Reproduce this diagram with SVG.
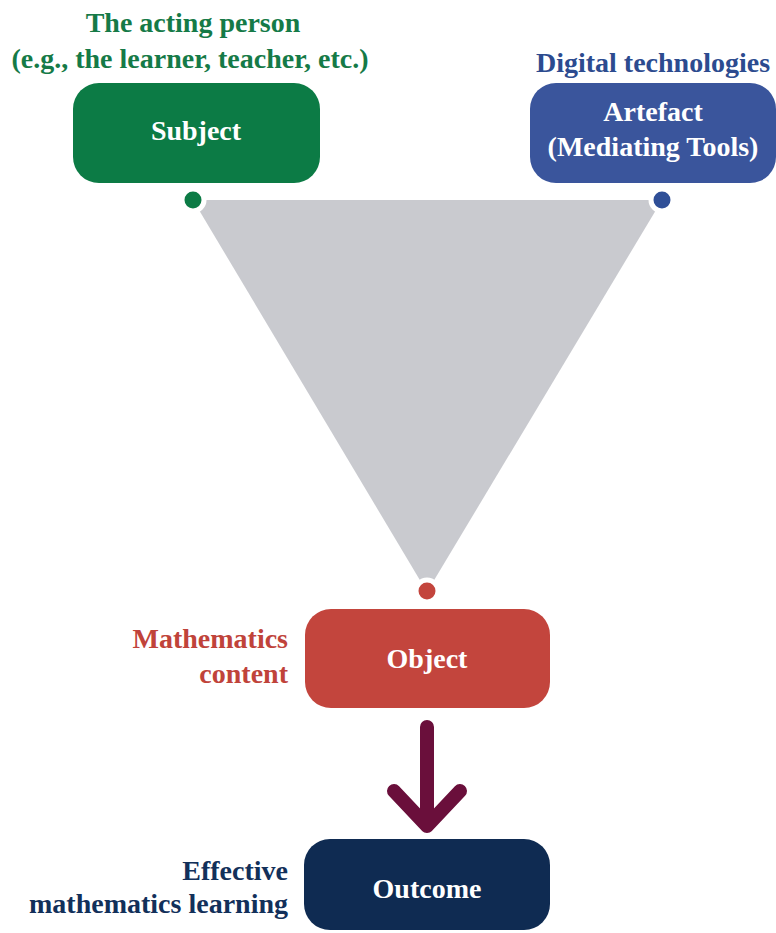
<svg xmlns="http://www.w3.org/2000/svg" width="776" height="933" viewBox="0 0 776 933" font-family="'Liberation Serif', 'DejaVu Serif', serif">
  <style>
    text { font-family: 'Liberation Serif', 'DejaVu Serif', serif; font-weight: 700; font-size: 28px; }
    .box-label { fill: #ffffff; text-anchor: middle; }
    .mid { text-anchor: middle; }
    .end { text-anchor: end; }
    .dot { stroke: #ffffff; stroke-width: 5; }
  </style>
  <rect width="776" height="933" fill="#ffffff"/>

  <!-- activity triangle between subject, artefact and object, plus the outcome arrow -->
  <g id="connectors">
    <polygon points="193,200 662,200 427,592" fill="#c9cacf"/>
    <path d="M427,727 V826 M394,791 L427,826 L460,791" fill="none" stroke="#6a0f3b" stroke-width="14" stroke-linecap="round" stroke-linejoin="round"/>
  </g>

  <g id="subject">
    <text x="193" y="32" class="mid" fill="#157a47">The acting person</text>
    <text x="190" y="68" class="mid" fill="#157a47">(e.g., the learner, teacher, etc.)</text>
    <rect x="73" y="83" width="247" height="100" rx="26" fill="#0c7b45"/>
    <text x="196" y="140" class="box-label">Subject</text>
    <circle cx="193" cy="200" r="11" class="dot" fill="#0c7b45"/>
  </g>

  <g id="artefact">
    <text x="653" y="72" class="mid" fill="#2c4b8f">Digital technologies</text>
    <rect x="530" y="83" width="246" height="100" rx="26" fill="#3a559c"/>
    <text x="653" y="121" class="box-label">Artefact</text>
    <text x="653" y="156" class="box-label">(Mediating Tools)</text>
    <circle cx="662" cy="200" r="11" class="dot" fill="#2f4f97"/>
  </g>

  <g id="object">
    <text x="288" y="648" class="end" fill="#c0433a">Mathematics</text>
    <text x="288" y="683" class="end" fill="#c0433a">content</text>
    <rect x="305" y="609" width="245" height="99" rx="26" fill="#c3453d"/>
    <text x="427" y="668" class="box-label">Object</text>
    <circle cx="427" cy="591" r="11" class="dot" fill="#c3453d"/>
  </g>

  <g id="outcome">
    <text x="288" y="880" class="end" fill="#12305a">Effective</text>
    <text x="288" y="913" class="end" fill="#12305a">mathematics learning</text>
    <rect x="304" y="839" width="246" height="91" rx="26" fill="#0f2b52"/>
    <text x="427" y="898" class="box-label">Outcome</text>
  </g>
</svg>
